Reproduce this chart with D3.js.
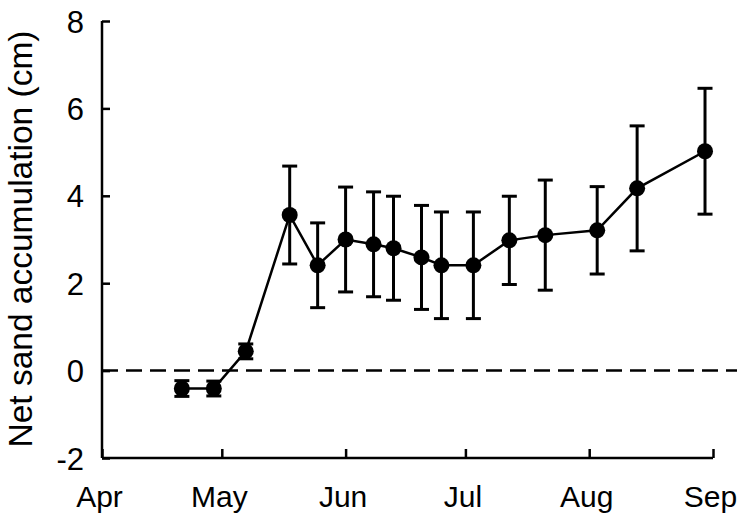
<!DOCTYPE html>
<html><head><meta charset="utf-8">
<script src="https://cdn.jsdelivr.net/npm/d3@7"></script>
<style>html,body{margin:0;padding:0;background:#fff}</style>
</head><body>
<script>
const dates = ["2000-04-21","2000-04-29","2000-05-07","2000-05-18","2000-05-25","2000-06-01","2000-06-08","2000-06-13","2000-06-20","2000-06-25","2000-07-03","2000-07-12","2000-07-21","2000-08-03","2000-08-13","2000-08-30"];
const values = [-0.41,-0.41,0.44,3.56,2.41,3.0,2.89,2.8,2.59,2.41,2.41,2.98,3.1,3.21,4.17,5.02];
const errors = [0.18,0.17,0.17,1.12,0.97,1.2,1.2,1.19,1.19,1.22,1.22,1.01,1.26,1.0,1.43,1.44];
const monthTicks = ["2000-04-01","2000-05-01","2000-06-01","2000-07-01","2000-08-01","2000-09-01"];
const monthLabels = ["Apr","May","Jun","Jul","Aug","Sep"];
const yTicks = [-2,0,2,4,6,8];
const yTitle = "Net sand accumulation (cm)";

const W=740,H=522;
const parse=d3.utcParse("%Y-%m-%d");
const svg=d3.select("body").append("svg").attr("width",W).attr("height",H);
const x=d3.scaleUtc().domain([parse(monthTicks[0]),parse(monthTicks[monthTicks.length-1])]).range([102,713]);
const y=d3.scaleLinear().domain([-2,8]).range([458,21]);
const font="'Liberation Sans', Arial, sans-serif";

// zero dashed line
svg.append("line").attr("x1",x.range()[0]).attr("x2",737).attr("y1",y(0)).attr("y2",y(0))
  .attr("stroke","#000").attr("stroke-width",2.5).attr("stroke-dasharray","16,8");

// axes
const yAxis=d3.axisLeft(y).tickValues(yTicks).tickSize(-8).tickPadding(18).tickFormat(d=>String(d));
const gy=svg.append("g").attr("transform",`translate(${x.range()[0]},0)`).call(yAxis);
const xAxis=d3.axisBottom(x).tickValues(monthTicks.map(parse)).tickSize(-9).tickPadding(0).tickFormat((d,i)=>monthLabels[i]);
const gx=svg.append("g").attr("transform",`translate(0,${y(-2)})`).call(xAxis);
[gx,gy].forEach(g=>{
  g.select(".domain").attr("stroke","#000").attr("stroke-width",2.5);
  g.selectAll(".tick line").attr("stroke","#000").attr("stroke-width",2.5);
  g.selectAll("text").attr("font-family",font).attr("font-size",31).attr("fill","#000");
});
gy.select(".domain").attr("d",`M0,${y(8)}H0V${y(-2)}`);
gx.select(".domain").attr("d",`M${x.range()[0]},0H${x.range()[1]}`);
gx.selectAll(".tick text").attr("font-size",30).attr("y",49).attr("dy",null).attr("dx",-3);
gy.selectAll(".tick text").attr("dy","0.36em");

// title
svg.append("text").attr("transform",`translate(32,239) rotate(-90)`).attr("text-anchor","middle")
  .attr("font-family",font).attr("font-size",33.5).attr("fill","#000").text(yTitle);

const data=dates.map((d,i)=>({x:parse(d),v:values[i],e:errors[i]}));
// error bars
const eb=svg.append("g").attr("stroke","#000").attr("stroke-width",3);
eb.selectAll(".v").data(data).join("line").attr("x1",d=>x(d.x)).attr("x2",d=>x(d.x)).attr("y1",d=>y(d.v+d.e)).attr("y2",d=>y(d.v-d.e));
eb.selectAll(".t").data(data).join("line").attr("x1",d=>x(d.x)-7.5).attr("x2",d=>x(d.x)+7.5).attr("y1",d=>y(d.v+d.e)).attr("y2",d=>y(d.v+d.e));
eb.selectAll(".b").data(data).join("line").attr("x1",d=>x(d.x)-7.5).attr("x2",d=>x(d.x)+7.5).attr("y1",d=>y(d.v-d.e)).attr("y2",d=>y(d.v-d.e));
// line
svg.append("path").datum(data).attr("fill","none").attr("stroke","#000").attr("stroke-width",2.5)
  .attr("d",d3.line().x(d=>x(d.x)).y(d=>y(d.v)));
// markers
svg.append("g").selectAll("circle").data(data).join("circle").attr("cx",d=>x(d.x)).attr("cy",d=>y(d.v)).attr("r",8).attr("fill","#000");
</script>
</body></html>
